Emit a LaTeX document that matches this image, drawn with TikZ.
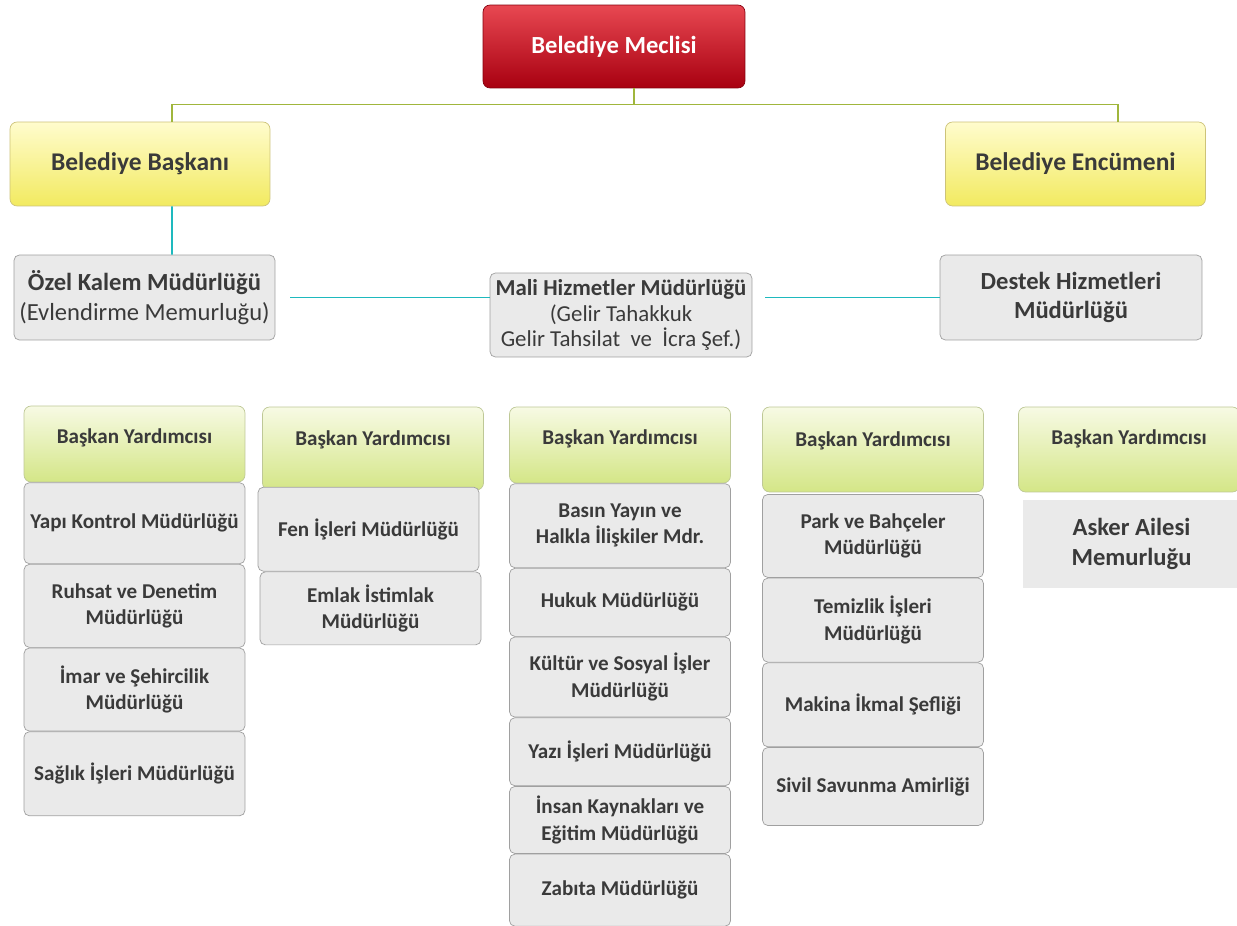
\documentclass[tikz,border=0pt]{standalone}
\usepackage{fontspec}
\setmainfont{Carlito}
\usetikzlibrary{positioning}

\definecolor{kirmiziust}{RGB}{232,72,82}
\definecolor{kirmizialt}{RGB}{168,0,16}
\definecolor{sariust}{RGB}{255,252,205}
\definecolor{sarialt}{RGB}{242,234,96}
\definecolor{sarikenar}{RGB}{205,195,120}
\definecolor{yesilust}{RGB}{247,250,228}
\definecolor{yesilalt}{RGB}{212,230,135}
\definecolor{yesilkenar}{RGB}{190,200,150}
\definecolor{gri}{RGB}{234,234,234}
\definecolor{grikenar}{RGB}{160,160,160}
\definecolor{yazi}{RGB}{58,58,58}
\definecolor{zeytin}{RGB}{160,182,60}
\definecolor{camgobegi}{RGB}{30,185,190}

\begin{document}
\begin{tikzpicture}[x=0.02cm, y=-0.02cm,
  meclis/.style = {draw=kirmizialt!80!black, rounded corners=4pt, top color=kirmiziust, bottom color=kirmizialt, text=white, font=\fontsize{14}{16}\selectfont\bfseries, minimum width=5.24cm, minimum height=1.66cm},
  kurul/.style = {draw=sarikenar, rounded corners=4pt, top color=sariust, bottom color=sarialt, text=yazi, font=\fontsize{14.5}{17}\selectfont\bfseries, minimum width=5.2cm, minimum height=1.68cm},
  mudurluk/.style = {draw=grikenar, rounded corners=3pt, fill=gri, text=yazi, align=center, inner sep=1pt, minimum width=4.42cm, font=\fontsize{12}{15}\selectfont\bfseries},
  buyuk/.style = {mudurluk, minimum width=5.22cm, minimum height=1.7cm, font=\fontsize{14}{17}\selectfont},
  yardimci/.style = {draw=yesilkenar, rounded corners=4pt, top color=yesilust, bottom color=yesilalt, text=yazi, minimum width=4.42cm, text height=8pt, text depth=11pt, font=\fontsize{12}{14}\selectfont\bfseries},
  ustcizgi/.style = {draw=zeytin, line width=0.8pt},
  altcizgi/.style = {draw=camgobegi, line width=1pt}]

\fill[white] (0,0) rectangle (1237,926);
\useasboundingbox (0,0) rectangle (1237,926);

% ust kademe
\node[meclis] (meclis) at (614,46.5) {Belediye Meclisi};
\node[kurul] (baskan) at (140,164) {Belediye Başkanı};
\node[kurul] (encumen) at (1075.5,164) {Belediye Encümeni};

\draw[ustcizgi] ([xshift=0.4cm]meclis.south) -- ++(0,16) -| ([xshift=0.64cm]baskan.north);
\draw[ustcizgi] ([xshift=0.4cm]meclis.south) -- ++(0,16) -| ([xshift=0.85cm]encumen.north);

% mudurlukler
\node[buyuk] (ozel) at (144.5,297.5) {\textbf{Özel Kalem Müdürlüğü}\\(Evlendirme Memurluğu)};
\node[buyuk, minimum width=5.24cm, minimum height=1.68cm, font=\fontsize{13}{14.6}\selectfont] (mali) at (621,315)
  {\textbf{Mali Hizmetler Müdürlüğü}\\(Gelir Tahakkuk\\Gelir Tahsilat\ \ ve\ \ İcra Şef.)};
\node[buyuk, minimum width=5.24cm, font=\fontsize{14}{17}\selectfont\bfseries] (destek) at (1071,297.5) {Destek Hizmetleri\\Müdürlüğü};

\draw[altcizgi] ([xshift=0.64cm]baskan.south) -- ([xshift=0.55cm]ozel.north);
\draw[altcizgi, shorten <=0.3cm] (ozel.east) -- (ozel.east -| mali.west);
\draw[altcizgi, shorten <=0.26cm] (destek.west -| mali.east) -- (destek.west);

% baskan yardimcilari
\node[yardimci, minimum height=1.52cm, text depth=9pt] (y1) at (134.5,444) {Başkan Yardımcısı};
\node[yardimci, minimum height=1.66cm] (y2) at (373,448.5) {Başkan Yardımcısı};
\node[yardimci, minimum height=1.52cm, text depth=9pt] (y3) at (620,445) {Başkan Yardımcısı};
\node[yardimci, minimum height=1.7cm] (y4) at (873,449.5) {Başkan Yardımcısı};
\node[yardimci, minimum height=1.7cm, text depth=14pt] (y5) at (1129,449.5) {Başkan Yardımcısı};

% 1. sutun
\node[mudurluk, minimum height=1.62cm] (a1) [below=0pt of y1] {Yapı Kontrol Müdürlüğü};
\node[mudurluk, minimum height=1.66cm] (a2) [below=0pt of a1] {Ruhsat ve Denetim\\Müdürlüğü};
\node[mudurluk, minimum height=1.66cm] (a3) [below=0pt of a2] {İmar ve Şehircilik\\Müdürlüğü};
\node[mudurluk, minimum height=1.68cm] (a4) [below=0pt of a3] {Sağlık İşleri Müdürlüğü};

% 2. sutun
\node[mudurluk, minimum height=1.68cm] (b1) [below=-2pt of y2, xshift=-0.09cm] {Fen İşleri Müdürlüğü};
\node[mudurluk, minimum height=1.46cm] (b2) [below=0pt of b1, xshift=0.04cm] {Emlak İstimlak\\Müdürlüğü};

% 3. sutun
\node[mudurluk, minimum height=1.68cm] (c1) [below=0pt of y3] {Basın Yayın ve\\Halkla İlişkiler Mdr.};
\node[mudurluk, minimum height=1.36cm] (c2) [below=0pt of c1] {Hukuk Müdürlüğü};
\node[mudurluk, minimum height=1.6cm] (c3) [below=0pt of c2] {Kültür ve Sosyal İşler\\Müdürlüğü};
\node[mudurluk, minimum height=1.36cm] (c4) [below=0pt of c3] {Yazı İşleri Müdürlüğü};
\node[mudurluk, minimum height=1.34cm] (c5) [below=0pt of c4] {İnsan Kaynakları ve\\Eğitim Müdürlüğü};
\node[mudurluk, minimum height=1.44cm] (c6) [below=0pt of c5] {Zabıta Müdürlüğü};

% 4. sutun
\node[mudurluk, minimum height=1.66cm] (d1) [below=1pt of y4] {Park ve Bahçeler\\Müdürlüğü};
\node[mudurluk, minimum height=1.68cm] (d2) [below=0pt of d1] {Temizlik İşleri\\Müdürlüğü};
\node[mudurluk, minimum height=1.68cm] (d3) [below=0pt of d2] {Makina İkmal Şefliği};
\node[mudurluk, minimum height=1.56cm] (d4) [below=0pt of d3] {Sivil Savunma Amirliği};

% 5. sutun
\node[fill=gri, text=yazi, align=center, minimum width=4.34cm, minimum height=1.76cm, font=\fontsize{14}{17}\selectfont\bfseries] (e1) at (1131.5,544) {Asker Ailesi\\Memurluğu};
\end{tikzpicture}
\end{document}
